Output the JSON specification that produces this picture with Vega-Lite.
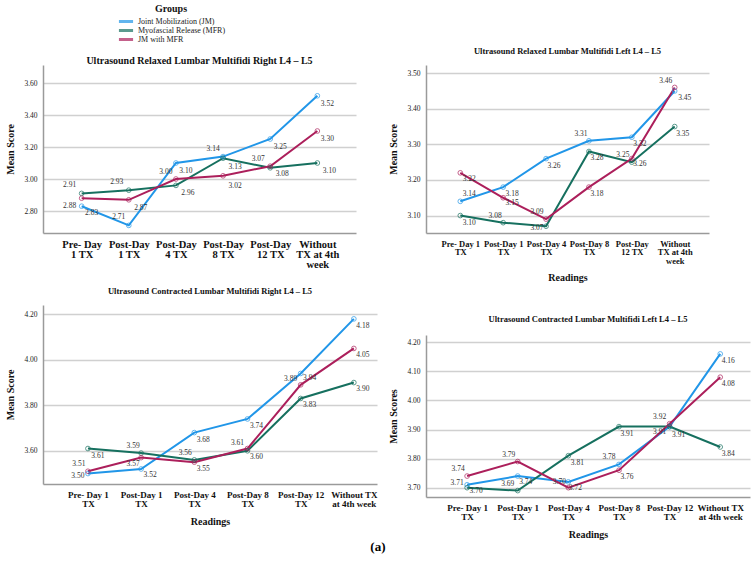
{
  "$schema": "https://vega.github.io/schema/vega-lite/v6.json",
  "background": "white",
  "padding": {"left": 5, "top": 4, "right": 5, "bottom": 3},
  "datasets": {
    "rr": [
      {"reading": "Pre- Day 1 TX", "group": "Joint Mobilization (JM)", "score": 2.83},
      {"reading": "Post-Day 1 TX", "group": "Joint Mobilization (JM)", "score": 2.71},
      {"reading": "Post-Day 4 TX", "group": "Joint Mobilization (JM)", "score": 3.10},
      {"reading": "Post-Day 8 TX", "group": "Joint Mobilization (JM)", "score": 3.14},
      {"reading": "Post-Day 12 TX", "group": "Joint Mobilization (JM)", "score": 3.25},
      {"reading": "Without TX at 4th week", "group": "Joint Mobilization (JM)", "score": 3.52},
      {"reading": "Pre- Day 1 TX", "group": "Myofascial Release (MFR)", "score": 2.91},
      {"reading": "Post-Day 1 TX", "group": "Myofascial Release (MFR)", "score": 2.93},
      {"reading": "Post-Day 4 TX", "group": "Myofascial Release (MFR)", "score": 2.96},
      {"reading": "Post-Day 8 TX", "group": "Myofascial Release (MFR)", "score": 3.13},
      {"reading": "Post-Day 12 TX", "group": "Myofascial Release (MFR)", "score": 3.07},
      {"reading": "Without TX at 4th week", "group": "Myofascial Release (MFR)", "score": 3.10},
      {"reading": "Pre- Day 1 TX", "group": "JM with MFR", "score": 2.88},
      {"reading": "Post-Day 1 TX", "group": "JM with MFR", "score": 2.87},
      {"reading": "Post-Day 4 TX", "group": "JM with MFR", "score": 3.00},
      {"reading": "Post-Day 8 TX", "group": "JM with MFR", "score": 3.02},
      {"reading": "Post-Day 12 TX", "group": "JM with MFR", "score": 3.08},
      {"reading": "Without TX at 4th week", "group": "JM with MFR", "score": 3.30}
    ],
    "rl": [
      {"reading": "Pre- Day 1 TX", "group": "Joint Mobilization (JM)", "score": 3.14},
      {"reading": "Post-Day 1 TX", "group": "Joint Mobilization (JM)", "score": 3.18},
      {"reading": "Post-Day 4 TX", "group": "Joint Mobilization (JM)", "score": 3.26},
      {"reading": "Post-Day 8 TX", "group": "Joint Mobilization (JM)", "score": 3.31},
      {"reading": "Post-Day 12 TX", "group": "Joint Mobilization (JM)", "score": 3.32},
      {"reading": "Without TX at 4th week", "group": "Joint Mobilization (JM)", "score": 3.45},
      {"reading": "Pre- Day 1 TX", "group": "Myofascial Release (MFR)", "score": 3.10},
      {"reading": "Post-Day 1 TX", "group": "Myofascial Release (MFR)", "score": 3.08},
      {"reading": "Post-Day 4 TX", "group": "Myofascial Release (MFR)", "score": 3.07},
      {"reading": "Post-Day 8 TX", "group": "Myofascial Release (MFR)", "score": 3.28},
      {"reading": "Post-Day 12 TX", "group": "Myofascial Release (MFR)", "score": 3.25},
      {"reading": "Without TX at 4th week", "group": "Myofascial Release (MFR)", "score": 3.35},
      {"reading": "Pre- Day 1 TX", "group": "JM with MFR", "score": 3.22},
      {"reading": "Post-Day 1 TX", "group": "JM with MFR", "score": 3.15},
      {"reading": "Post-Day 4 TX", "group": "JM with MFR", "score": 3.09},
      {"reading": "Post-Day 8 TX", "group": "JM with MFR", "score": 3.18},
      {"reading": "Post-Day 12 TX", "group": "JM with MFR", "score": 3.26},
      {"reading": "Without TX at 4th week", "group": "JM with MFR", "score": 3.46}
    ],
    "cr": [
      {"reading": "Pre- Day 1 TX", "group": "Joint Mobilization (JM)", "score": 3.50},
      {"reading": "Post-Day 1 TX", "group": "Joint Mobilization (JM)", "score": 3.52},
      {"reading": "Post-Day 4 TX", "group": "Joint Mobilization (JM)", "score": 3.68},
      {"reading": "Post-Day 8 TX", "group": "Joint Mobilization (JM)", "score": 3.74},
      {"reading": "Post-Day 12 TX", "group": "Joint Mobilization (JM)", "score": 3.94},
      {"reading": "Without TX at 4th week", "group": "Joint Mobilization (JM)", "score": 4.18},
      {"reading": "Pre- Day 1 TX", "group": "Myofascial Release (MFR)", "score": 3.61},
      {"reading": "Post-Day 1 TX", "group": "Myofascial Release (MFR)", "score": 3.59},
      {"reading": "Post-Day 4 TX", "group": "Myofascial Release (MFR)", "score": 3.56},
      {"reading": "Post-Day 8 TX", "group": "Myofascial Release (MFR)", "score": 3.60},
      {"reading": "Post-Day 12 TX", "group": "Myofascial Release (MFR)", "score": 3.83},
      {"reading": "Without TX at 4th week", "group": "Myofascial Release (MFR)", "score": 3.90},
      {"reading": "Pre- Day 1 TX", "group": "JM with MFR", "score": 3.51},
      {"reading": "Post-Day 1 TX", "group": "JM with MFR", "score": 3.57},
      {"reading": "Post-Day 4 TX", "group": "JM with MFR", "score": 3.55},
      {"reading": "Post-Day 8 TX", "group": "JM with MFR", "score": 3.61},
      {"reading": "Post-Day 12 TX", "group": "JM with MFR", "score": 3.89},
      {"reading": "Without TX at 4th week", "group": "JM with MFR", "score": 4.05}
    ],
    "cl": [
      {"reading": "Pre- Day 1 TX", "group": "Joint Mobilization (JM)", "score": 3.71},
      {"reading": "Post-Day 1 TX", "group": "Joint Mobilization (JM)", "score": 3.74},
      {"reading": "Post-Day 4 TX", "group": "Joint Mobilization (JM)", "score": 3.72},
      {"reading": "Post-Day 8 TX", "group": "Joint Mobilization (JM)", "score": 3.78},
      {"reading": "Post-Day 12 TX", "group": "Joint Mobilization (JM)", "score": 3.91},
      {"reading": "Without TX at 4th week", "group": "Joint Mobilization (JM)", "score": 4.16},
      {"reading": "Pre- Day 1 TX", "group": "Myofascial Release (MFR)", "score": 3.70},
      {"reading": "Post-Day 1 TX", "group": "Myofascial Release (MFR)", "score": 3.69},
      {"reading": "Post-Day 4 TX", "group": "Myofascial Release (MFR)", "score": 3.81},
      {"reading": "Post-Day 8 TX", "group": "Myofascial Release (MFR)", "score": 3.91},
      {"reading": "Post-Day 12 TX", "group": "Myofascial Release (MFR)", "score": 3.91},
      {"reading": "Without TX at 4th week", "group": "Myofascial Release (MFR)", "score": 3.84},
      {"reading": "Pre- Day 1 TX", "group": "JM with MFR", "score": 3.74},
      {"reading": "Post-Day 1 TX", "group": "JM with MFR", "score": 3.79},
      {"reading": "Post-Day 4 TX", "group": "JM with MFR", "score": 3.70},
      {"reading": "Post-Day 8 TX", "group": "JM with MFR", "score": 3.76},
      {"reading": "Post-Day 12 TX", "group": "JM with MFR", "score": 3.92},
      {"reading": "Without TX at 4th week", "group": "JM with MFR", "score": 4.08}
    ]
  },
  "title": {"text": "(a)", "orient": "bottom", "anchor": "middle", "font": "Liberation Serif", "fontSize": 13, "fontWeight": "bold", "color": "#000", "offset": 2},
  "hconcat": [
    {
      "spacing": 16,
      "vconcat": [
        {
          "width": 313, "height": 168,
          "title": {"text": "Ultrasound Relaxed Lumbar Multifidi Right L4 – L5", "fontSize": 10, "offset": -1},
          "data": {"name": "rr"},
          "encoding": {
            "x": {"field": "reading", "type": "ordinal", "sort": null, "scale": {"type": "point", "padding": 0.82},
                  "axis": {"title": null, "labelFontSize": 10.5, "labelLineHeight": 10,
                           "labelExpr": "datum.value == 'Pre- Day 1 TX' ? ['Pre- Day','1 TX'] : datum.value == 'Post-Day 1 TX' ? ['Post-Day','1 TX'] : datum.value == 'Post-Day 4 TX' ? ['Post-Day','4 TX'] : datum.value == 'Post-Day 8 TX' ? ['Post-Day','8 TX'] : datum.value == 'Post-Day 12 TX' ? ['Post-Day','12 TX'] : ['Without','TX at 4th','week']"}},
            "y": {"field": "score", "type": "quantitative", "scale": {"domain": [2.6625, 3.7125], "nice": false, "zero": false},
                  "axis": {"title": "Mean Score", "values": [2.8, 3.0, 3.2, 3.4, 3.6]}},
            "color": {"field": "group", "type": "nominal", "sort": null, "legend": {"title": "Groups"}}
          },
          "layer": [
            {"mark": {"type": "line", "strokeWidth": 2}},
            {"mark": {"type": "point", "size": 22, "strokeWidth": 1, "filled": false}},
            {"mark": {"type": "text", "fontSize": 7.5,
                      "dx": {"expr": "(datum.group == 'Joint Mobilization (JM)' ? [10,-10,10,-10,10,10] : datum.group == 'Myofascial Release (MFR)' ? [-12,-12,12,12,-12,12] : [-12,12,-10,12,12,10])[indexof(['Pre- Day 1 TX','Post-Day 1 TX','Post-Day 4 TX','Post-Day 8 TX','Post-Day 12 TX','Without TX at 4th week'], datum.reading)]"},
                      "dy": {"expr": "(datum.group == 'Joint Mobilization (JM)' ? [7,-8,8,-8,8,8] : datum.group == 'Myofascial Release (MFR)' ? [-8,-8,8,9,-9,8] : [8,8,-7,10,8,8])[indexof(['Pre- Day 1 TX','Post-Day 1 TX','Post-Day 4 TX','Post-Day 8 TX','Post-Day 12 TX','Without TX at 4th week'], datum.reading)]"}},
             "encoding": {"text": {"field": "score", "format": ".2f"}, "color": {"value": "#333"}}}
          ]
        },
        {
          "width": 334, "height": 179,
          "title": {"text": "Ultrasound Contracted Lumbar Multifidi Right L4 – L5", "fontSize": 8.5, "offset": 10},
          "data": {"name": "cr"},
          "encoding": {
            "x": {"field": "reading", "type": "ordinal", "sort": null, "scale": {"type": "point", "padding": 0.64, "align": 0.66},
                  "axis": {"title": "Readings", "labelFontSize": 9, "labelLineHeight": 9,
                           "labelExpr": "datum.value == 'Without TX at 4th week' ? ['Without TX','at 4th week'] : [replace(datum.value,' TX',''),'TX']"}},
            "y": {"field": "score", "type": "quantitative", "scale": {"domain": [3.454, 4.241], "nice": false, "zero": false},
                  "axis": {"title": "Mean Score", "values": [3.6, 3.8, 4.0, 4.2]}},
            "color": {"field": "group", "type": "nominal", "sort": null, "legend": {"title": "Groups"}}
          },
          "layer": [
            {"mark": {"type": "line", "strokeWidth": 2}},
            {"mark": {"type": "point", "size": 22, "strokeWidth": 1, "filled": false}},
            {"mark": {"type": "text", "fontSize": 7.5,
                      "dx": {"expr": "(datum.group == 'Joint Mobilization (JM)' ? [-10,9,9,9,9,9] : datum.group == 'Myofascial Release (MFR)' ? [10,-8,-9,9,9,9] : [-9,-8,9,-10,-10,9])[indexof(['Pre- Day 1 TX','Post-Day 1 TX','Post-Day 4 TX','Post-Day 8 TX','Post-Day 12 TX','Without TX at 4th week'], datum.reading)]"},
                      "dy": {"expr": "(datum.group == 'Joint Mobilization (JM)' ? [2,6,7,7,5,7] : datum.group == 'Myofascial Release (MFR)' ? [7,-7,-7,6,7,6] : [-7,6,7,-6,-6,7])[indexof(['Pre- Day 1 TX','Post-Day 1 TX','Post-Day 4 TX','Post-Day 8 TX','Post-Day 12 TX','Without TX at 4th week'], datum.reading)]"}},
             "encoding": {"text": {"field": "score", "format": ".2f"}, "color": {"value": "#333"}}}
          ]
        }
      ]
    },
    {
      "spacing": 31,
      "vconcat": [
        {
          "width": 283, "height": 168,
          "title": {"text": "Ultrasound Relaxed Lumbar Multifidi Left L4 – L5", "fontSize": 8.5, "offset": 10},
          "data": {"name": "rl"},
          "encoding": {
            "x": {"field": "reading", "type": "ordinal", "sort": null, "scale": {"type": "point", "padding": 0.8},
                  "axis": {"title": "Readings", "labelFontSize": 8.5, "labelLineHeight": 8.5,
                           "labelExpr": "datum.value == 'Post-Day 12 TX' ? ['Post-Day','12 TX'] : datum.value == 'Without TX at 4th week' ? ['Without','TX at 4th','week'] : [replace(datum.value,' TX',''),'TX']"}},
            "y": {"field": "score", "type": "quantitative", "scale": {"domain": [3.051, 3.523], "nice": false, "zero": false},
                  "axis": {"title": "Mean Score", "values": [3.1, 3.2, 3.3, 3.4, 3.5]}},
            "color": {"field": "group", "type": "nominal", "sort": null, "legend": {"title": "Groups"}}
          },
          "layer": [
            {"mark": {"type": "line", "strokeWidth": 2}},
            {"mark": {"type": "point", "size": 22, "strokeWidth": 1, "filled": false}},
            {"mark": {"type": "text", "fontSize": 7.5,
                      "dx": {"expr": "(datum.group == 'Joint Mobilization (JM)' ? [9,9,8,-8,8,10] : datum.group == 'Myofascial Release (MFR)' ? [9,-8,-9,8,-9,8] : [9,9,-9,8,8,-9])[indexof(['Pre- Day 1 TX','Post-Day 1 TX','Post-Day 4 TX','Post-Day 8 TX','Post-Day 12 TX','Without TX at 4th week'], datum.reading)]"},
                      "dy": {"expr": "(datum.group == 'Joint Mobilization (JM)' ? [-7,7,7,-7,7,7] : datum.group == 'Myofascial Release (MFR)' ? [7,-7,2,7,-7,7] : [6,5,-7,7,5,-6])[indexof(['Pre- Day 1 TX','Post-Day 1 TX','Post-Day 4 TX','Post-Day 8 TX','Post-Day 12 TX','Without TX at 4th week'], datum.reading)]"}},
             "encoding": {"text": {"field": "score", "format": ".2f"}, "color": {"value": "#333"}}}
          ]
        },
        {
          "width": 324, "height": 162,
          "title": {"text": "Ultrasound Contracted Lumbar Multifidi Left L4 – L5", "fontSize": 8.5, "offset": 12},
          "data": {"name": "cl"},
          "encoding": {
            "x": {"field": "reading", "type": "ordinal", "sort": null, "scale": {"type": "point", "padding": 0.7, "align": 0.58},
                  "axis": {"title": "Readings", "labelFontSize": 9, "labelLineHeight": 9,
                           "labelExpr": "datum.value == 'Without TX at 4th week' ? ['Without TX','at 4th week'] : [replace(datum.value,' TX',''),'TX']"}},
            "y": {"field": "score", "type": "quantitative", "scale": {"domain": [3.668, 4.225], "nice": false, "zero": false},
                  "axis": {"title": "Mean Scores", "values": [3.7, 3.8, 3.9, 4.0, 4.1, 4.2]}},
            "color": {"field": "group", "type": "nominal", "sort": null, "legend": {"title": "Groups"}}
          },
          "layer": [
            {"mark": {"type": "line", "strokeWidth": 2}},
            {"mark": {"type": "point", "size": 22, "strokeWidth": 1, "filled": false}},
            {"mark": {"type": "text", "fontSize": 7.5,
                      "dx": {"expr": "(datum.group == 'Joint Mobilization (JM)' ? [-10,8,7,-10,-10,8] : datum.group == 'Myofascial Release (MFR)' ? [9,-10,9,8,9,8] : [-9,-9,-9,8,-10,8])[indexof(['Pre- Day 1 TX','Post-Day 1 TX','Post-Day 4 TX','Post-Day 8 TX','Post-Day 12 TX','Without TX at 4th week'], datum.reading)]"},
                      "dy": {"expr": "(datum.group == 'Joint Mobilization (JM)' ? [-2,6,6,-7,5,7] : datum.group == 'Myofascial Release (MFR)' ? [3,-7,7,7,8,7] : [-7,-7,-6,7,-7,7])[indexof(['Pre- Day 1 TX','Post-Day 1 TX','Post-Day 4 TX','Post-Day 8 TX','Post-Day 12 TX','Without TX at 4th week'], datum.reading)]"}},
             "encoding": {"text": {"field": "score", "format": ".2f"}, "color": {"value": "#333"}}}
          ]
        }
      ]
    }
  ],
  "spacing": 10,
  "config": {
    "view": {"stroke": null},
    "font": "Liberation Serif",
    "range": {"category": ["#2196E8", "#16705F", "#AC1F5B"]},
    "title": {"font": "Liberation Serif", "fontWeight": "bold", "color": "#111", "anchor": "middle"},
    "text": {"font": "Liberation Serif"},
    "legend": {"orient": "none", "legendX": 74, "legendY": -61, "titleFontSize": 10, "titleFontWeight": "bold", "titleAnchor": "middle", "titleFont": "Liberation Serif", "titleColor": "#111", "labelFont": "Liberation Serif", "labelFontSize": 8, "labelColor": "#222", "symbolType": "stroke", "symbolStrokeWidth": 3, "symbolSize": 200, "rowPadding": 0, "labelOffset": 3, "titlePadding": 3, "clipHeight": 9},
    "axis": {"labelFont": "Liberation Serif", "titleFont": "Liberation Serif", "domainColor": "#9a9a9a", "domainWidth": 1.5, "ticks": false, "gridColor": "#d0d0d0", "gridWidth": 1.5, "labelColor": "#222", "titleColor": "#111", "titleFontWeight": "bold", "titleFontSize": 10},
    "axisX": {"grid": false, "labelAngle": 0, "labelFontWeight": "bold", "labelPadding": 6, "titlePadding": 8, "labelColor": "#111"},
    "axisY": {"grid": true, "labelFontSize": 7.5, "format": ".2f", "labelPadding": 6, "titlePadding": 8}
  }
}
